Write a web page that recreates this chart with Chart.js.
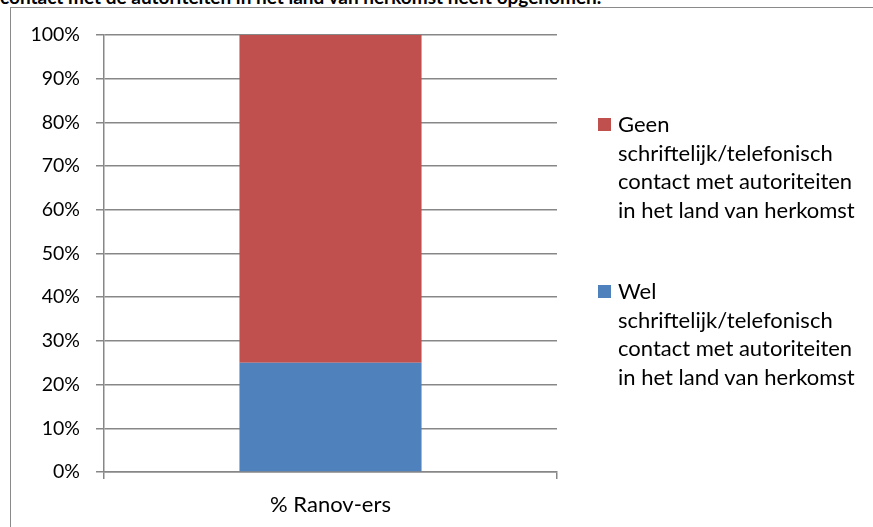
<!DOCTYPE html>
<html>
<head>
<meta charset="utf-8">
<script src="https://cdn.jsdelivr.net/npm/chart.js@4/dist/chart.umd.min.js"></script>
<style>
  html, body { margin: 0; padding: 0; background: #fff; }
  body { width: 873px; height: 527px; position: relative; overflow: hidden; font-family: Lato, sans-serif; }
  #caption { position: absolute; left: 0; top: -13px; font-weight: bold; font-size: 19px; line-height: 19px; white-space: nowrap; color: #000; }
  #frame { position: absolute; left: 10px; top: 7px; width: 880px; height: 540px; border: 1.5px solid #8a8a8a; box-sizing: border-box; }
  #wrap { position: absolute; left: 0; top: 0; width: 873px; height: 527px; }
  .legend-item { position: absolute; left: 598px; font-size: 22px; line-height: 28.5px; color: #000; }
  .legend-item .box { position: absolute; left: 0; width: 13px; height: 13px; }
  .legend-item .text { margin-left: 20px; white-space: nowrap; }
</style>
</head>
<body>
<div id="caption">contact met de autoriteiten in het land van herkomst heeft opgenomen.</div>
<div id="frame"></div>
<div id="wrap"><canvas id="chart" width="873" height="527"></canvas></div>
<div id="legend"></div>
<script>
// categories / ticks
const categories = ['% Ranov-ers'];
const yTicks = [0, 10, 20, 30, 40, 50, 60, 70, 80, 90, 100];

// series (stacked, bottom first)
const welValues = [25];
const geenValues = [75];
const welLabel = ['Wel', 'schriftelijk/telefonisch', 'contact met autoriteiten', 'in het land van herkomst'];
const geenLabel = ['Geen', 'schriftelijk/telefonisch', 'contact met autoriteiten', 'in het land van herkomst'];

const blue = '#4F81BD';
const red = '#C0504D';
const gridColor = '#878787';

const datasets = [
    { label: welLabel, data: welValues, backgroundColor: blue, barPercentage: 0.402, categoryPercentage: 1 },
    { label: geenLabel, data: geenValues, backgroundColor: red, barPercentage: 0.402, categoryPercentage: 1 }
];

new Chart(document.getElementById('chart'), {
    type: 'bar',
    data: { labels: categories, datasets: datasets },
    options: {
        responsive: false,
        animation: false,
        layout: { padding: { left: 0, top: 35, right: 316, bottom: 0 } },
        plugins: { legend: { display: false }, tooltip: { enabled: false } },
        scales: {
            x: {
                stacked: true,
                grid: { color: gridColor, lineWidth: 1.5, drawOnChartArea: false, tickLength: 7, offset: true },
                border: { color: gridColor, width: 1.5 },
                ticks: { color: '#000', font: { family: 'Lato', size: 22 }, padding: 13 },
                afterFit: (s) => { s.height = 55; }
            },
            y: {
                stacked: true,
                min: 0,
                max: 100,
                afterBuildTicks: (s) => { s.ticks = yTicks.map(v => ({ value: v })); },
                grid: { color: gridColor, lineWidth: 1.5, tickLength: 8 },
                border: { color: gridColor, width: 1.5 },
                ticks: { color: '#000', font: { family: 'Lato', size: 19.5 }, padding: 16, callback: v => v + '%' },
                afterFit: (s) => { s.width = 104; }
            }
        }
    }
});

// legend, top item is the upper stack segment
const legendEl = document.getElementById('legend');
const legendTops = [110, 277];
datasets.slice().reverse().forEach((ds, i) => {
    const item = document.createElement('div');
    item.className = 'legend-item';
    item.style.top = legendTops[i] + 'px';
    item.innerHTML = '<span class="box" style="background:' + ds.backgroundColor + ';top:8px"></span>' +
        '<div class="text">' + ds.label.join('<br>') + '</div>';
    legendEl.appendChild(item);
});
</script>
</body>
</html>
